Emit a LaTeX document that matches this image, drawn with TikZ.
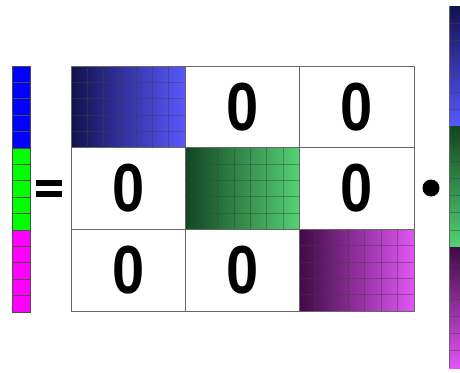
\documentclass[tikz,border=0pt]{standalone}
\usepackage{fontspec}
\setsansfont{Liberation Sans}
\usetikzlibrary{positioning,calc}

\definecolor{bluDark}{RGB}{18,18,80}
\definecolor{bluLight}{RGB}{88,88,255}
\definecolor{grnDark}{RGB}{18,70,35}
\definecolor{grnLight}{RGB}{85,210,115}
\definecolor{magDark}{RGB}{65,10,70}
\definecolor{magLight}{RGB}{225,85,245}
\definecolor{vecBlue}{RGB}{0,0,255}
\definecolor{vecGreen}{RGB}{0,255,0}
\definecolor{vecMag}{RGB}{255,0,255}

\begin{document}
\begin{tikzpicture}[
    x=1pt, y=-1pt,
    every node/.style={inner sep=0pt, outer sep=0pt},
    cellbox/.style={draw=black!60, line width=0.8pt, fill=white, minimum width=114.33pt, minimum height=81.67pt},
    block/.style={draw=black!60, line width=0.8pt, minimum width=114.33pt, minimum height=81.67pt},
    zero/.style={font=\sffamily\bfseries\fontsize{68}{68}\selectfont, xscale=0.85},
    gridline/.style={draw=black!75, opacity=0.45, line width=1pt},
    vcell/.style={draw=black!70, line width=0.7pt, minimum width=18pt, minimum height=16.4pt, anchor=north west},
    vseg/.style={minimum width=18pt, minimum height=120.67pt, anchor=north west}
]
\useasboundingbox (0,0) rectangle (460,372);
\clip (0,0) rectangle (460,372);

% left vector
\foreach \c [count=\k from 0] in {vecBlue,vecGreen,vecMag}
  \foreach \i in {0,...,4}
    \node[vcell, fill=\c] (l\k\i) at (12, 66+\k*82+\i*16.4) {};

% equals sign
\fill (36,180) rectangle (62,186);
\fill (36,191) rectangle (62,197);

% block diagonal matrix
\foreach \r in {0,1,2}
  \foreach \c in {0,1,2}
    \node[cellbox, anchor=north west] (m\r\c) at (71+\c*114.33, 66+\r*81.67) {};
\node[block, left color=bluDark, right color=bluLight] (b0) at (m00) {};
\node[block, left color=grnDark, right color=grnLight] (b1) at (m11) {};
\node[block, left color=magDark, right color=magLight] (b2) at (m22) {};
\foreach \b in {b0,b1,b2} {
  \foreach \i in {1,...,6}
    \draw[gridline] ($(\b.north west)!\i/7!(\b.north east)$) -- ($(\b.south west)!\i/7!(\b.south east)$);
  \foreach \i in {1,...,4}
    \draw[gridline] ($(\b.north west)!\i/5!(\b.south west)$) -- ($(\b.north east)!\i/5!(\b.south east)$);
}

% zeros
\node[zero] (z01) at (m01) {0};
\node[zero] (z02) at (m02) {0};
\node[zero] (z10) at (m10) {0};
\node[zero] (z12) at (m12) {0};
\node[zero] (z20) at (m20) {0};
\node[zero] (z21) at (m21) {0};

% dot
\fill (431,188) circle (8.5);

% right vector
\node[vseg, top color=bluDark, bottom color=bluLight] (r0) at (449,6) {};
\node[vseg, top color=grnDark, bottom color=grnLight] (r1) at (449,126.67) {};
\node[vseg, top color=magDark, bottom color=magLight] (r2) at (449,247.33) {};
\foreach \s in {r0,r1,r2}
  \foreach \i in {1,...,6}
    \draw[gridline] ($(\s.north west)!\i/7!(\s.south west)$) -- ($(\s.north east)!\i/7!(\s.south east)$);
\draw[draw=black!60, line width=0.8pt] (r0.north west) -- (r2.south west);
\end{tikzpicture}
\end{document}
